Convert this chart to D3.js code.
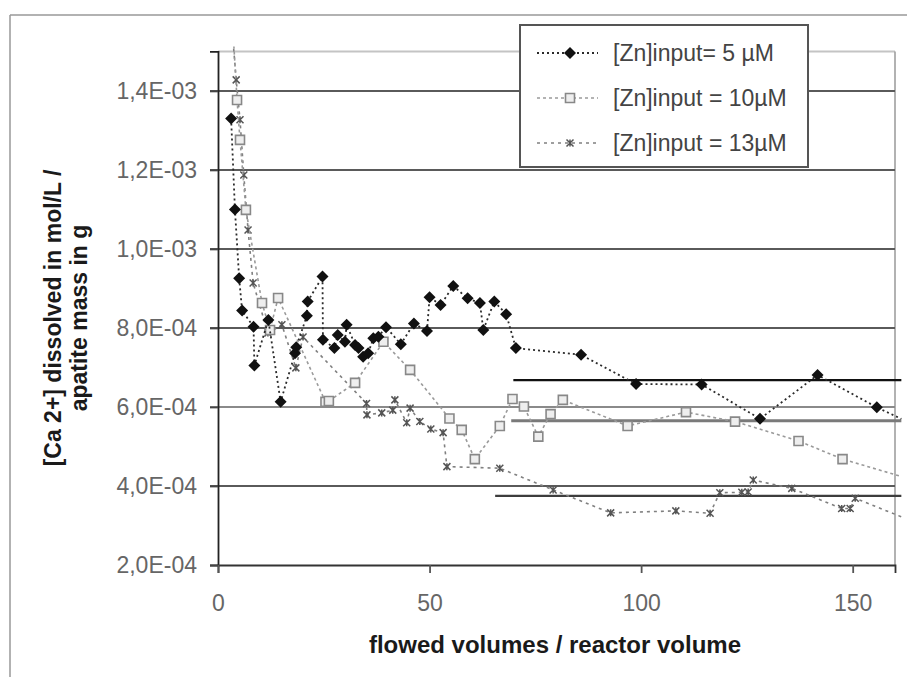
<!DOCTYPE html>
<html><head><meta charset="utf-8">
<script src="https://cdn.jsdelivr.net/npm/d3@7/dist/d3.min.js"></script>
<style>
html,body{margin:0;padding:0;background:#fff;}
text{font-family:"Liberation Sans",Arial,sans-serif;}
</style></head>
<body>
<svg id="chart" width="907" height="677"></svg>
<script>
// ---- data ----
const x5 = [3.1,4.0,5.0,5.7,8.4,8.6,11.9,14.8,18.2,18.5,21.0,21.2,24.7,24.8,27.5,28.3,30.0,30.4,32.4,33.2,34.3,35.5,36.7,37.9,39.7,43.2,46.3,49.4,50.0,52.6,55.6,59.0,61.9,62.7,65.3,68.1,70.4,85.8,98.8,114.3,128.1,141.7,155.7,161.5];
const y5 = [1.33e-3,1.10e-3,9.26e-4,8.44e-4,8.03e-4,7.05e-4,8.20e-4,6.13e-4,7.36e-4,7.51e-4,8.31e-4,8.67e-4,9.30e-4,7.70e-4,7.49e-4,7.82e-4,7.65e-4,8.08e-4,7.57e-4,7.49e-4,7.27e-4,7.36e-4,7.74e-4,7.78e-4,8.02e-4,7.59e-4,8.11e-4,7.92e-4,8.78e-4,8.58e-4,9.06e-4,8.75e-4,8.63e-4,7.95e-4,8.67e-4,8.35e-4,7.49e-4,7.32e-4,6.58e-4,6.57e-4,5.70e-4,6.81e-4,5.99e-4,5.70e-4];
const x10 = [3.5,4.5,5.2,6.6,10.4,12.3,14.2,25.4,26.2,32.4,39.1,45.4,54.7,57.6,60.7,66.6,69.6,72.3,75.7,78.6,81.5,96.8,110.6,122.2,137.2,147.6,161.5];
const y10 = [1.56e-3,1.377e-3,1.276e-3,1.099e-3,8.63e-4,7.95e-4,8.76e-4,6.13e-4,6.15e-4,6.61e-4,7.65e-4,6.94e-4,5.71e-4,5.42e-4,4.68e-4,5.52e-4,6.20e-4,6.01e-4,5.25e-4,5.82e-4,6.18e-4,5.52e-4,5.87e-4,5.63e-4,5.14e-4,4.68e-4,4.24e-4];
const x13 = [3.3,4.3,5.2,6.1,7.1,8.3,11.8,15.1,18.4,20.1,35.1,35.2,38.7,41.3,41.8,44.6,45.4,47.7,50.3,53.2,54.1,66.6,79.2,92.8,108.2,116.3,118.6,123.8,125.3,126.5,135.6,147.4,149.4,150.6,161.5];
const y13 = [1.56e-3,1.428e-3,1.327e-3,1.187e-3,1.048e-3,9.14e-4,7.87e-4,8.08e-4,6.99e-4,7.77e-4,6.09e-4,5.80e-4,5.85e-4,5.92e-4,6.18e-4,5.60e-4,5.97e-4,5.63e-4,5.44e-4,5.35e-4,4.49e-4,4.45e-4,3.90e-4,3.32e-4,3.37e-4,3.31e-4,3.83e-4,3.84e-4,3.85e-4,4.15e-4,3.94e-4,3.43e-4,3.43e-4,3.69e-4,3.22e-4];
const refStart = [69.8, 69.3, 65.5];
const refEnd = [161.5, 161.5, 161.5];
const refValue = [6.68e-4, 5.65e-4, 3.75e-4];
const seriesNames = ["[Zn]input= 5 µM", "[Zn]input = 10µM", "[Zn]input = 13µM"];
const xTicks = [0, 50, 100, 150];
const yTicks = [2e-4, 4e-4, 6e-4, 8e-4, 1.0e-3, 1.2e-3, 1.4e-3];
const yTickLabels = ["2,0E-04","4,0E-04","6,0E-04","8,0E-04","1,0E-03","1,2E-03","1,4E-03"];
const xTitle = "flowed volumes / reactor volume";
const yTitle1 = "[Ca 2+] dissolved  in mol/L  /";
const yTitle2 = "apatite mass in g";

// ---- layout ----
const svg = d3.select("#chart");
const L = 218, R = 895, T = 51.4, B = 565;
const x = d3.scaleLinear().domain([0, 160]).range([L, R]);
const y = d3.scaleLinear().domain([2e-4, 1.5e-3]).range([B, T]);

// figure frame
svg.append("line").attr("x1",10).attr("x2",907).attr("y1",15).attr("y2",15).attr("stroke","#999").attr("stroke-width",1.5);
svg.append("line").attr("x1",10).attr("x2",10).attr("y1",15).attr("y2",677).attr("stroke","#999").attr("stroke-width",1.5);

// plot top/right border
svg.append("line").attr("x1",L).attr("x2",R).attr("y1",T).attr("y2",T).attr("stroke","#c4c4c4").attr("stroke-width",2);
svg.append("line").attr("x1",R).attr("x2",R).attr("y1",T).attr("y2",B).attr("stroke","#999").attr("stroke-width",1.5);

// gridlines
svg.append("g").selectAll("line").data(yTicks.slice(1)).join("line")
  .attr("x1", L - 8).attr("x2", R)
  .attr("y1", d => y(d)).attr("y2", d => y(d))
  .attr("stroke", d => d === 6e-4 ? "#8a8a8a" : "#5a5a5a").attr("stroke-width", 2);

// axes
const yAxis = d3.axisLeft(y).tickValues(yTicks).tickSize(8).tickPadding(13)
  .tickFormat((d, i) => yTickLabels[i]);
const gy = svg.append("g").attr("transform", `translate(${L},0)`).call(yAxis);
gy.select(".domain").attr("stroke", "#222").attr("stroke-width", 1.8);
gy.selectAll(".tick line").attr("stroke", "#444").attr("stroke-width", 1.8);
gy.selectAll(".tick text").attr("fill", "#666").style("font-size", "23px").style("font-family", '"Liberation Sans",Arial,sans-serif');

const xAxis = d3.axisBottom(x).tickValues(xTicks).tickSize(8).tickPadding(22).tickFormat(d3.format("d"));
const gx = svg.append("g").attr("transform", `translate(0,${B})`).call(xAxis);
gx.select(".domain").attr("stroke", "#333").attr("stroke-width", 1.8);
gx.selectAll(".tick line").attr("stroke", "#555").attr("stroke-width", 1.8);
gx.selectAll(".tick text").attr("fill", "#666").style("font-size", "23px").style("font-family", '"Liberation Sans",Arial,sans-serif');

// titles
svg.append("text").attr("x", 555).attr("y", 653).attr("text-anchor", "middle")
  .attr("fill", "#1a1a1a").style("font-size", "24px").style("font-weight", "bold").text(xTitle);
svg.append("text").attr("transform", "translate(61,318) rotate(-90)").attr("text-anchor", "middle")
  .attr("fill", "#1a1a1a").style("font-size", "23px").style("font-weight", "bold").text(yTitle1);
svg.append("text").attr("transform", "translate(87,318) rotate(-90)").attr("text-anchor", "middle")
  .attr("fill", "#1a1a1a").style("font-size", "23px").style("font-weight", "bold").text(yTitle2);

// clip
svg.append("clipPath").attr("id", "clip").append("rect")
  .attr("x", L).attr("y", T - 5).attr("width", R - L + 7).attr("height", B - T + 5);
const plot = svg.append("g").attr("clip-path", "url(#clip)");

// reference lines
const refColors = ["#111", "#7a7a7a", "#3d3d3d"];
const refWidths = [2.2, 3, 2.2];
plot.append("g").selectAll("line").data(refValue).join("line")
  .attr("x1", (d, i) => x(refStart[i])).attr("x2", (d, i) => x(refEnd[i]))
  .attr("y1", d => y(d)).attr("y2", d => y(d))
  .attr("stroke", (d, i) => refColors[i]).attr("stroke-width", (d, i) => refWidths[i]);

// markers
const diamond = r => `M0,${-r}L${r},0L0,${r}L${-r},0Z`;
const square = r => `M${-r},${-r}H${r}V${r}H${-r}Z`;
const star = r => `M${-r},${-r}L${r},${r}M${-r},${r}L${r},${-r}M0,${-r}V${r}`;

const series = [
  {xs: x13, ys: y13, color: "#808080", dash: "3,4", width: 1.6, marker: "star"},
  {xs: x10, ys: y10, color: "#9a9a9a", dash: "3,3", width: 1.6, marker: "square"},
  {xs: x5,  ys: y5,  color: "#2a2a2a", dash: "2,3", width: 1.8, marker: "diamond"}
];
const line = d3.line().x(d => x(d[0])).y(d => y(d[1]));

function drawMarker(g, type, px, py) {
  if (type === "diamond") {
    g.append("path").attr("d", diamond(6)).attr("transform", `translate(${px},${py})`).attr("fill", "#111");
  } else if (type === "square") {
    g.append("path").attr("d", square(4.5)).attr("transform", `translate(${px},${py})`)
      .attr("fill", "#eee").attr("stroke", "#888").attr("stroke-width", 1.6);
  } else {
    g.append("path").attr("d", star(3.5)).attr("transform", `translate(${px},${py})`)
      .attr("fill", "none").attr("stroke", "#555").attr("stroke-width", 1.5);
  }
}

series.forEach(s => {
  const pts = s.xs.map((v, i) => [v, s.ys[i]]);
  plot.append("path").datum(pts).attr("d", line).attr("fill", "none")
    .attr("stroke", s.color).attr("stroke-width", s.width).attr("stroke-dasharray", s.dash);
  const mg = plot.append("g");
  pts.forEach(p => { if (p[0] <= 160) drawMarker(mg, s.marker, x(p[0]), y(p[1])); });
});

// legend
const lg = svg.append("g");
lg.append("rect").attr("x", 520).attr("y", 25).attr("width", 288).attr("height", 142)
  .attr("fill", "#fff").attr("stroke", "#555").attr("stroke-width", 2);
const legendSeries = [series[2], series[1], series[0]];
const legendY = [53, 98, 143];
legendSeries.forEach((s, i) => {
  lg.append("line").attr("x1", 537).attr("x2", 598).attr("y1", legendY[i]).attr("y2", legendY[i])
    .attr("stroke", s.color).attr("stroke-width", s.width).attr("stroke-dasharray", s.dash);
  drawMarker(lg, s.marker, 570, legendY[i]);
  lg.append("text").attr("x", 613).attr("y", legendY[i]).attr("dy", "0.35em")
    .attr("fill", "#444").style("font-size", "23px").text(seriesNames[i]);
});
</script>
</body></html>
